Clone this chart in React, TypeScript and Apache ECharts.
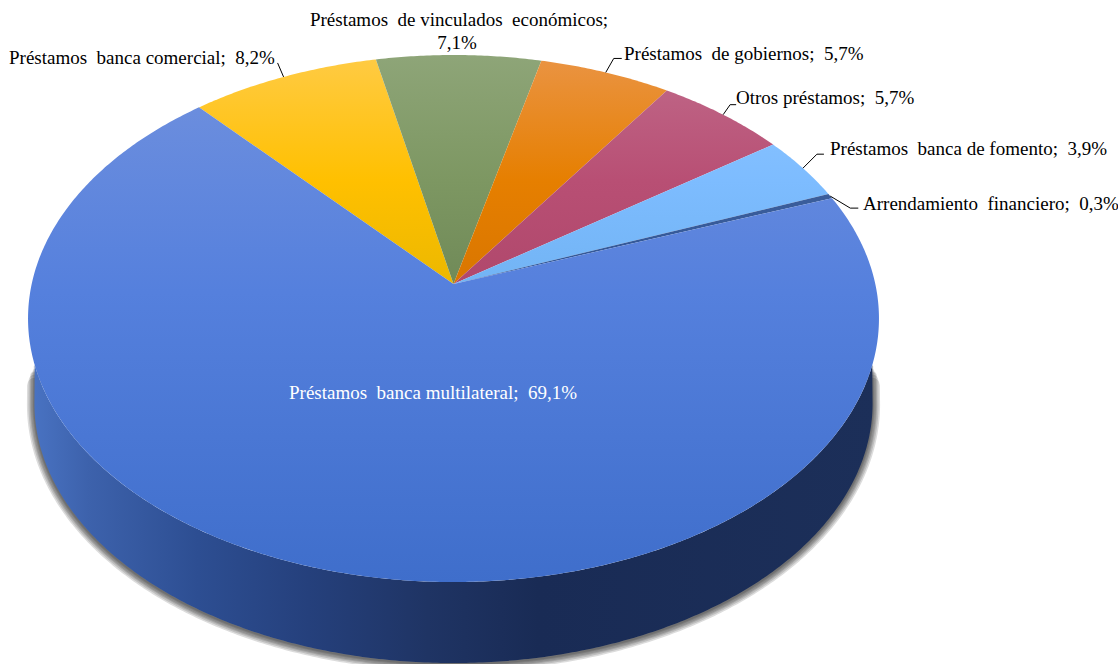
import React, { useEffect, useRef } from "react";
import * as echarts from "echarts";

const categories = [
  "Préstamos  banca comercial",
  "Préstamos  de vinculados  económicos",
  "Préstamos  de gobiernos",
  "Otros préstamos",
  "Préstamos  banca de fomento",
  "Arrendamiento  financiero",
  "Préstamos  banca multilateral",
];
const values = [8.2, 7.1, 5.7, 5.7, 3.9, 0.3, 69.1];
const percentLabels = ["8,2%", "7,1%", "5,7%", "5,7%", "3,9%", "0,3%", "69,1%"];
const sliceTop = ["#ffcb45", "#8ea578", "#ea9444", "#c06a8a", "#8fc6ff", "#52709f", "#7191de"];
const sliceMid = ["#ffc000", "#7d9762", "#e67f00", "#b84f74", "#7dbcff", "#3d5f9c", "#5580dd"];
const sliceEnd = ["#ecb800", "#708a58", "#d97600", "#b0486c", "#72b4f4", "#2f5597", "#3f6ecb"];

// Pie geometry: a disc seen in perspective
const APEX_X = 453.5;
const APEX_Y = 284;
const SCALE_X = 421.8;
const SCALE_Y = 259;
const PERSPECTIVE = 0.131;
const FIRST_ANGLE = -41.5;
const WALL_DROP = 85.5;
const WALL_SCALE = 0.985;
const WALL_INSET = 10;
const TOP_Y = 55;
const BOTTOM_Y = 582;

// Leader elbows relative to the slice's rim point, then the label anchor.
const leaders: (number[][] | null)[] = [
  [[-6, -14]],
  null,
  [[8, -14], [16, -14]],
  [[7, -10], [13, -10]],
  [[14, -14], [21, -14]],
  [[20, 12], [28, 12]],
  null,
];
const labelAnchors = [
  { x: 9, y: 57 },
  { x: 459, y: 19 },
  { x: 624, y: 53 },
  { x: 736, y: 97 },
  { x: 830, y: 148 },
  { x: 863, y: 203 },
  { x: 289, y: 392 },
];

const FONT = '19px "Liberation Serif", "Times New Roman", serif';
const SHADOW_WIDTHS = [15, 12, 9, 7, 4, 2];
const SHADOW_TRIMS = [4, 3, 2, 2, 1, 0];

function project(deg: number, scale = 1, drop = 0): number[] {
  const a = (deg * Math.PI) / 180;
  const u = Math.sin(a);
  const v = -Math.cos(a);
  const w = 1 - PERSPECTIVE * v;
  return [APEX_X + (scale * SCALE_X * u) / w, APEX_Y + drop + (scale * SCALE_Y * v) / w];
}

function sliceRange(index: number): number[] {
  const total = values.reduce((s, x) => s + x, 0);
  let before = 0;
  for (let i = 0; i < index; i++) before += values[i];
  const start = FIRST_ANGLE + (before / total) * 360;
  return [start, start + (values[index] / total) * 360];
}

function arc(a0: number, a1: number, scale = 1, drop = 0): number[][] {
  const n = Math.max(2, Math.ceil(Math.abs(a1 - a0) * 2));
  const pts: number[][] = [];
  for (let i = 0; i <= n; i++) pts.push(project(a0 + ((a1 - a0) * i) / n, scale, drop));
  return pts;
}

function along(from: number[], to: number[], steps: number): number[][] {
  const pts: number[][] = [];
  for (let i = 0; i < steps; i++) {
    pts.push([from[0] + ((to[0] - from[0]) * i) / steps, from[1] + ((to[1] - from[1]) * i) / steps]);
  }
  return pts;
}

function renderWall() {
  const tangent = (Math.asin(Math.sqrt(1 - PERSPECTIVE * PERSPECTIVE)) * 180) / Math.PI;
  const right = 180 - tangent;
  const left = 180 + tangent;
  const bottom = arc(left, right, WALL_SCALE, WALL_DROP);
  const topLeft = project(left - WALL_INSET);
  const topRight = project(right + WALL_INSET);
  const outline = [
    ...along(topLeft, bottom[0], 8),
    ...bottom,
    ...along(bottom[bottom.length - 1], topRight, 8).slice(1),
    topRight,
  ].map((p) => [p[0], p[1] + 1]);
  const shadows = SHADOW_WIDTHS.map((lineWidth, i) => ({
    type: "polyline",
    shape: { points: outline.slice(SHADOW_TRIMS[i], outline.length - SHADOW_TRIMS[i]) },
    style: { fill: "none", stroke: "rgba(40,40,40,0.16)", lineWidth, lineJoin: "round", lineCap: "round" },
  }));
  const points = [...arc(right + WALL_INSET, left - WALL_INSET), ...arc(left, right, WALL_SCALE, WALL_DROP)];
  const fill = new echarts.graphic.LinearGradient(
    28, 0, 879, 0,
    [
      { offset: 0, color: "#4a74c4" },
      { offset: 0.07, color: "#3d62ac" },
      { offset: 0.2, color: "#2d4e92" },
      { offset: 0.33, color: "#25407c" },
      { offset: 0.47, color: "#1f3464" },
      { offset: 0.6, color: "#192b55" },
      { offset: 1, color: "#1c2f59" },
    ],
    true,
  );
  return {
    type: "group",
    children: [...shadows, { type: "polygon", shape: { points }, style: { fill } }],
  };
}

function renderSlice(params: any) {
  const i = params.dataIndex;
  const [a0, a1] = sliceRange(i);
  const points = [[APEX_X, APEX_Y], ...arc(a0, a1)];
  const isMain = values[i] > 50;
  const fill = new echarts.graphic.LinearGradient(
    0, TOP_Y, 0, isMain ? BOTTOM_Y : APEX_Y,
    [
      { offset: 0, color: sliceTop[i] },
      { offset: isMain ? 0.45 : 0.55, color: sliceMid[i] },
      { offset: 1, color: sliceEnd[i] },
    ],
    true,
  );
  const children: any[] = [{ type: "polygon", shape: { points }, style: { fill } }];
  const rim = project((a0 + a1) / 2);
  const elbows = leaders[i];
  if (elbows) {
    children.push({
      type: "polyline",
      shape: { points: [rim, ...elbows.map((e) => [rim[0] + e[0], rim[1] + e[1]])] },
      style: { fill: "none", stroke: "#000000", lineWidth: 1 },
    });
  }
  const anchor = labelAnchors[i];
  const textStyle = { font: FONT, textVerticalAlign: "middle", fill: isMain ? "#ffffff" : "#000000" };
  if (i === 1) {
    children.push(
      { type: "text", style: { ...textStyle, text: categories[i] + ";", x: anchor.x, y: anchor.y, textAlign: "center" } },
      { type: "text", style: { ...textStyle, text: percentLabels[i], x: anchor.x - 2, y: anchor.y + 23, textAlign: "center" } },
    );
  } else {
    children.push({
      type: "text",
      style: { ...textStyle, text: categories[i] + ";  " + percentLabels[i], x: anchor.x, y: anchor.y, textAlign: "left" },
    });
  }
  return { type: "group", children };
}

export default function App() {
  const ref = useRef<HTMLDivElement>(null);
  useEffect(() => {
    const chart = echarts.init(ref.current!, undefined, { renderer: "svg" });
    chart.setOption({
      animation: false,
      backgroundColor: "#ffffff",
      series: [
        { type: "custom", coordinateSystem: "none", silent: true, clip: false, data: [100], renderItem: renderWall, z: 1 },
        { type: "custom", coordinateSystem: "none", silent: true, clip: false, data: values, renderItem: renderSlice, z: 2 },
      ],
    });
    return () => chart.dispose();
  }, []);
  return <div ref={ref} style={{ position: "fixed", left: 0, top: 0, width: 1118, height: 664 }} />;
}
